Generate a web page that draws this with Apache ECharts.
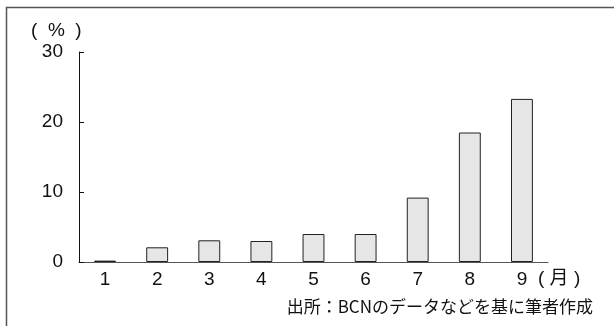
<!DOCTYPE html>
<html>
<head>
<meta charset="utf-8">
<script src="https://cdn.jsdelivr.net/npm/echarts@6/dist/echarts.min.js"></script>
<style>
  html, body { margin: 0; padding: 0; background: #fff; }
  #chart { width: 614px; height: 326px; }
</style>
</head>
<body>
<div id="chart"></div>
<script>
// 月ごとの割合（%）
var months = ['1', '2', '3', '4', '5', '6', '7', '8', '9'];
var shares = [0.2, 2.1, 3.1, 3.0, 4.0, 4.0, 9.2, 18.5, 23.3];
var yTicks = [0, 10, 20, 30];

var fontFam = '"Liberation Sans", Arial, "Noto Sans CJK JP", sans-serif';

var myChart = echarts.init(document.getElementById('chart'));
myChart.setOption({
  animation: false,
  grid: { left: 79, top: 52, right: 66, bottom: 64 },
  xAxis: {
    type: 'category',
    data: months,
    axisLine: { lineStyle: { color: '#555', width: 1 } },
    axisTick: { inside: true, length: 3, lineStyle: { color: '#555' } },
    axisLabel: { fontSize: 19, color: '#111', margin: 8, fontFamily: fontFam }
  },
  yAxis: {
    type: 'value',
    min: yTicks[0],
    max: yTicks[yTicks.length - 1],
    interval: 10,
    axisLine: { show: true, lineStyle: { color: '#111', width: 1 } },
    axisTick: { show: true, inside: true, length: 5, lineStyle: { color: '#111' } },
    splitLine: { show: false },
    axisLabel: { fontSize: 19, color: '#111', margin: 16, fontFamily: fontFam }
  },
  series: [{
    type: 'bar',
    data: shares,
    barWidth: '42%',
    itemStyle: { color: '#e6e6e6', borderColor: '#222', borderWidth: 1 }
  }],
  graphic: [
    // 外枠（左・上）
    { type: 'polyline', shape: { points: [[6.5, 326], [6.5, 7.5], [614, 7.5]] },
      style: { stroke: '#555', lineWidth: 1.5, fill: null } },
    { type: 'text', left: 31, top: 21,
      style: { text: '(  %  )', font: '19px ' + fontFam, fill: '#111' } },
    { type: 'text', left: 538, top: 269,
      style: { text: '( 月 )', font: '19px ' + fontFam, fill: '#111' } },
    { type: 'text', right: 21, top: 298,
      style: { text: '出所：BCNのデータなどを基に筆者作成', font: '17px "Noto Sans CJK JP", sans-serif', fill: '#111' } }
  ]
});
</script>
</body>
</html>
